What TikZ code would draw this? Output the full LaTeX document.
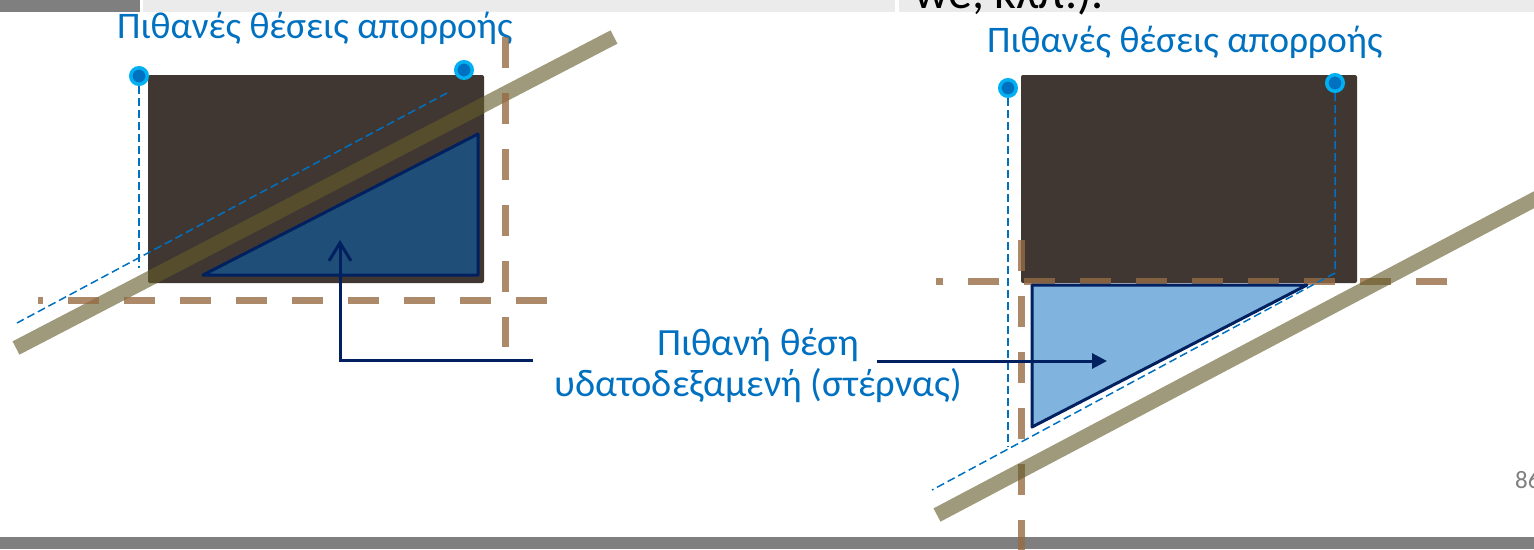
\documentclass[tikz,border=0pt]{standalone}
\usepackage{fontspec}
\setmainfont{Carlito}
\usetikzlibrary{arrows.meta,positioning}
\definecolor{slidegray}{RGB}{127,127,127}
\definecolor{barlight}{RGB}{235,235,235}
\definecolor{soil}{RGB}{64,55,50}
\definecolor{titleblue}{RGB}{0,112,192}
\definecolor{dotcyan}{RGB}{0,176,240}
\definecolor{navy}{RGB}{0,32,96}
\definecolor{tankdark}{RGB}{31,78,121}
\definecolor{tanklight}{RGB}{128,180,222}
\definecolor{slope}{RGB}{100,92,43}
\definecolor{axisbrown}{RGB}{150,108,68}

\begin{document}
\begin{tikzpicture}[x=1pt,y=-1pt,>=Latex,
  guide/.style={draw=axisbrown,draw opacity=.8,line width=7pt,dash pattern=on 31pt off 25pt},
  ground/.style={draw=slope,draw opacity=.62,line width=15pt},
  proj/.style={draw=titleblue,line width=1.5pt,dash pattern=on 8pt off 4pt},
  outlet/.style={circle,fill=titleblue,draw=dotcyan,line width=3.5pt,minimum size=16.5pt,inner sep=0pt},
  house/.style={fill=soil,rounded corners=2pt},
  tank/.style={draw=navy,line width=3pt,line join=round},
  callout/.style={draw=navy,line width=3pt},
  lbl/.style={text=titleblue,font=\fontsize{37.5}{44}\selectfont,inner sep=0pt},
  caplbl/.style={lbl,font=\fontsize{38.5}{46}\selectfont}]
\useasboundingbox (0,0) rectangle (1534,549);
\clip (0,0) rectangle (1534,549);
% slide frame
\fill[slidegray] (0,0) rectangle (140,12);
\fill[barlight] (143,0) rectangle (895,12);
\fill[barlight] (899,0) rectangle (1534,12);
\fill[slidegray] (0,537) rectangle (1534,549);
\node[anchor=base west,font=\fontsize{48}{54}\selectfont,inner sep=0pt] (prev) at (914,8) {we, κλπ.).};
\node[anchor=base west,text=slidegray,font=\fontsize{25}{30}\selectfont,inner sep=0pt] (pgnum) at (1515,488) {86};

% left case
\node[lbl,anchor=base west] (titleL) at (117,38) {Πιθανές θέσεις απορροής};
\fill[house] (148,75) rectangle (484,283);
\draw[tank,fill=tankdark] (203,275) -- (478,275) -- (478,134) -- cycle;
\draw[ground] (16,348) -- (614,37);
\draw[guide] (547,300) -- (38,300);
\draw[guide] (505,37) -- (505,347);
\node[outlet] (outL1) at (139,76) {};
\node[outlet] (outL2) at (464,70) {};
\draw[proj] (outL1.south) -- (139,268);
\draw[proj] (447,93) -- (17,323);
\coordinate (tankL) at (340,240);
\coordinate (fromL) at (533,360);

% right case
\node[lbl,anchor=base west] (titleR) at (987,52) {Πιθανές θέσεις απορροής};
\fill[house] (1021,75) rectangle (1357,283);
\draw[guide] (1447,281) -- (936,281);
\draw[guide] (1021,240) -- (1021,560);
\draw[tank,fill=tanklight] (1032,285) -- (1307,285) -- (1032,427) -- cycle;
\draw[ground] (937,515) -- (1560,186);
\node[outlet] (outR1) at (1008,88) {};
\node[outlet] (outR2) at (1335,83) {};
\draw[proj] (outR1.south) -- (1008,447);
\draw[proj] (outR2.south) -- (1335,273) -- (932,490);
\coordinate (tankR) at (1107,361);
\coordinate (fromR) at (877,361);

% label and arrows
\node[caplbl,anchor=base] (cap1) at (758,355) {Πιθανή θέση};
\node[caplbl,anchor=base] (cap2) at (758,396) {υδατοδεξαμενή (στέρνας)};
\draw[callout,-{Straight Barb[length=18pt,width=22pt]}] (fromL) -| (tankL);
\draw[callout,-{Triangle[length=15pt,width=15pt]}] (fromR) -- (tankR);
\end{tikzpicture}
\end{document}
